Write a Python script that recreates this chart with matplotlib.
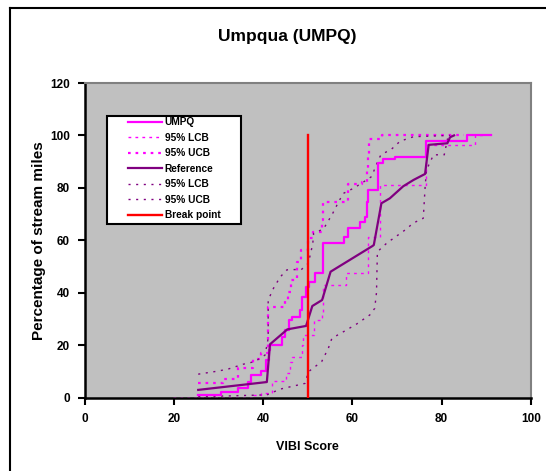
import matplotlib
matplotlib.use("Agg")
import matplotlib.pyplot as plt
from matplotlib.lines import Line2D
from matplotlib.patches import Rectangle

plt.rcParams['font.family'] = ['Liberation Sans', 'DejaVu Sans']

# UMPQ CDF (step)
umpq_x = [25.4, 30.5, 34.4, 36.6, 37.3, 39.6, 40.5, 41.2, 41.6, 44.3, 44.9, 45.8, 46.5, 48.2, 48.6, 49.5,
          50.3, 51.6, 53.5, 58.0, 59.1, 61.7, 62.8, 63.2, 63.6, 65.8, 66.9, 69.6, 76.5, 85.6, 91.2]
umpq_y = [1.0, 2.0, 3.5, 6.0, 8.6, 10.2, 14.3, 18.0, 20.0, 23.2, 25.8, 29.6, 30.6, 33.4, 38.2, 42.3,
          44.2, 47.4, 58.8, 61.4, 64.6, 67.1, 69.0, 74.7, 79.2, 89.4, 90.9, 91.7, 98.0, 100.0, 100.0]

# UMPQ 95% LCB (step, right side)
umpq_lcb_x = [19.8, 37.8, 39.6, 42.0, 45.1, 46.0, 46.4, 48.6, 49.0, 51.4, 53.1, 53.4, 58.5, 63.6, 66.2, 76.6, 87.5, 90.0]
umpq_lcb_y = [0.0, 1.0, 1.6, 6.4, 9.2, 13.7, 15.6, 20.0, 24.0, 29.6, 32.1, 42.9, 47.4, 61.4, 81.1, 96.4, 100.0, 100.0]

# UMPQ 95% UCB (step, left side)
umpq_ucb_x = [25.4, 31.0, 34.4, 37.8, 39.6, 41.1, 44.9, 45.6, 46.3, 47.5, 48.5, 50.1, 51.2, 53.1, 53.5, 59.1,
              62.1, 63.2, 63.4, 63.8, 66.6, 85.0]
umpq_ucb_y = [5.6, 6.9, 11.1, 14.7, 16.9, 34.5, 36.9, 40.4, 44.8, 51.8, 56.3, 60.8, 63.3, 67.7, 74.7, 81.4,
              82.4, 86.8, 91.9, 98.5, 100.0, 100.0]

# Reference CDF
ref_x = [25.4, 40.8, 41.5, 45.4, 49.6, 51.0, 53.2, 55.1, 64.5, 64.8, 66.5, 68.4, 71.4, 73.7, 76.3, 77.1, 81.3, 81.9, 82.8]
ref_y = [2.9, 5.9, 20.3, 26.0, 27.3, 34.9, 37.2, 48.0, 57.8, 58.2, 74.1, 76.0, 80.6, 83.0, 85.3, 96.4, 97.0, 99.3, 100.0]

# Reference 95% LCB
ref_lcb_x = [25.4, 40.8, 43.8, 49.4, 50.1, 53.1, 54.6, 55.4, 58.3, 61.0, 63.9, 65.0, 65.4, 65.6, 67.7, 71.8,
             73.7, 75.9, 76.3, 76.6, 78.2, 80.6, 81.5]
ref_lcb_y = [0.3, 1.0, 3.2, 5.4, 9.8, 13.7, 18.8, 22.6, 25.4, 28.1, 31.5, 34.0, 40.0, 55.6, 58.9, 63.9,
             66.6, 68.4, 80.0, 86.8, 92.6, 92.6, 100.0]

# Reference 95% UCB
ref_ucb_x = [25.4, 29.9, 32.2, 35.5, 38.1, 40.4, 41.1, 41.1, 42.3, 43.8, 45.3, 48.6, 50.1, 51.1, 51.3, 53.5,
             55.5, 57.0, 58.0, 60.2, 62.1, 64.3, 65.8, 66.4, 68.8, 70.7, 73.7, 81.9]
ref_ucb_y = [8.9, 10.1, 10.9, 12.7, 13.7, 16.2, 22.6, 37.2, 41.7, 46.0, 48.7, 48.9, 51.2, 58.6, 62.7, 64.3,
             70.0, 75.0, 77.9, 79.8, 81.8, 84.3, 90.6, 92.6, 94.8, 97.8, 99.5, 100.0]

break_x = 50
break_y = [0, 100]

x_ticks = [0, 20, 40, 60, 80, 100]
y_ticks = [0, 20, 40, 60, 80, 100, 120]

MAG = '#FF00FF'
PUR = '#800080'

W, H = 546, 471
fig = plt.figure(figsize=(W / 100, H / 100), dpi=100)
ax = fig.add_axes([85 / W, 1 - 397.5 / H, 445.7 / W, 314.5 / H])
ax.set_facecolor('#C0C0C0')

l_umpq, = ax.plot(umpq_x, umpq_y, drawstyle='steps-post', color=MAG, lw=1.6, label='UMPQ', zorder=5)
l_ulcb, = ax.plot(umpq_lcb_x, umpq_lcb_y, drawstyle='steps-post', color=MAG, lw=1.0,
                  linestyle=(0, (2, 3)), label='95% LCB', zorder=3)
l_uucb, = ax.plot(umpq_ucb_x, umpq_ucb_y, drawstyle='steps-post', color=MAG, lw=1.6,
                  linestyle=(0, (1.2, 2.2)), label='95% UCB', zorder=3)
l_ref, = ax.plot(ref_x, ref_y, color=PUR, lw=1.6, label='Reference', zorder=6)
l_rlcb, = ax.plot(ref_lcb_x, ref_lcb_y, color=PUR, lw=1.0, linestyle=(0, (1.5, 4)), label='95% LCB', zorder=4)
l_rucb, = ax.plot(ref_ucb_x, ref_ucb_y, color=PUR, lw=1.0, linestyle=(0, (1.5, 4)), label='95% UCB', zorder=4)
l_bp, = ax.plot([break_x, break_x], break_y, color='#FF0000', lw=1.7, label='Break point', zorder=7)

ax.set_xlim(0, 100)
ax.set_ylim(0, 120)
ax.set_xticks(x_ticks)
ax.set_yticks(y_ticks)
ax.tick_params(direction='out', length=5, width=1.5, labelsize=8.5, pad=6)
for lab in ax.get_xticklabels() + ax.get_yticklabels():
    lab.set_fontweight('bold')

for s in ['left', 'bottom']:
    ax.spines[s].set_color('black')
    ax.spines[s].set_linewidth(1.8)
for s in ['right', 'top']:
    ax.spines[s].set_color('#808080')
    ax.spines[s].set_linewidth(1.5)

ax.set_xlabel('VIBI Score', fontsize=9, fontweight='bold', labelpad=12)
ax.set_ylabel('Percentage of stream miles', fontsize=11, fontweight='bold', labelpad=3)
fig.text(287 / W, 1 - 36 / H, 'Umpqua (UMPQ)', ha='center', va='center', fontsize=12.5, fontweight='bold')

# legend box (pixel coords converted to axes fraction)
def ax_x(px):
    return (px - 85) / 445.7

def ax_y(py):
    return (397.5 - py) / 314.5

box = Rectangle((ax_x(106.7), ax_y(224)), ax_x(241) - ax_x(106.7), ax_y(115.7) - ax_y(224),
                transform=ax.transAxes, facecolor='white', edgecolor='black', lw=1.5, zorder=9)
ax.add_patch(box)

leg = ax.legend(handles=[l_umpq, l_ulcb, l_uucb, l_ref, l_rlcb, l_rucb, l_bp],
                loc='upper left', bbox_to_anchor=(ax_x(127.5), ax_y(117.3)), frameon=False,
                prop={'size': 7.3, 'weight': 'bold'},
                handlelength=3.4, handletextpad=0.25, labelspacing=0.54, borderpad=0, borderaxespad=0)
leg.set_zorder(10)

# figure border (chart area frame)
fig.add_artist(Line2D([10 / W, 10 / W], [0, 1 - 8 / H], transform=fig.transFigure, color='black', lw=1.5))
fig.add_artist(Line2D([10 / W, 1], [1 - 8 / H, 1 - 8 / H], transform=fig.transFigure, color='black', lw=1.5))

fig.savefig('out.png', dpi=100)
